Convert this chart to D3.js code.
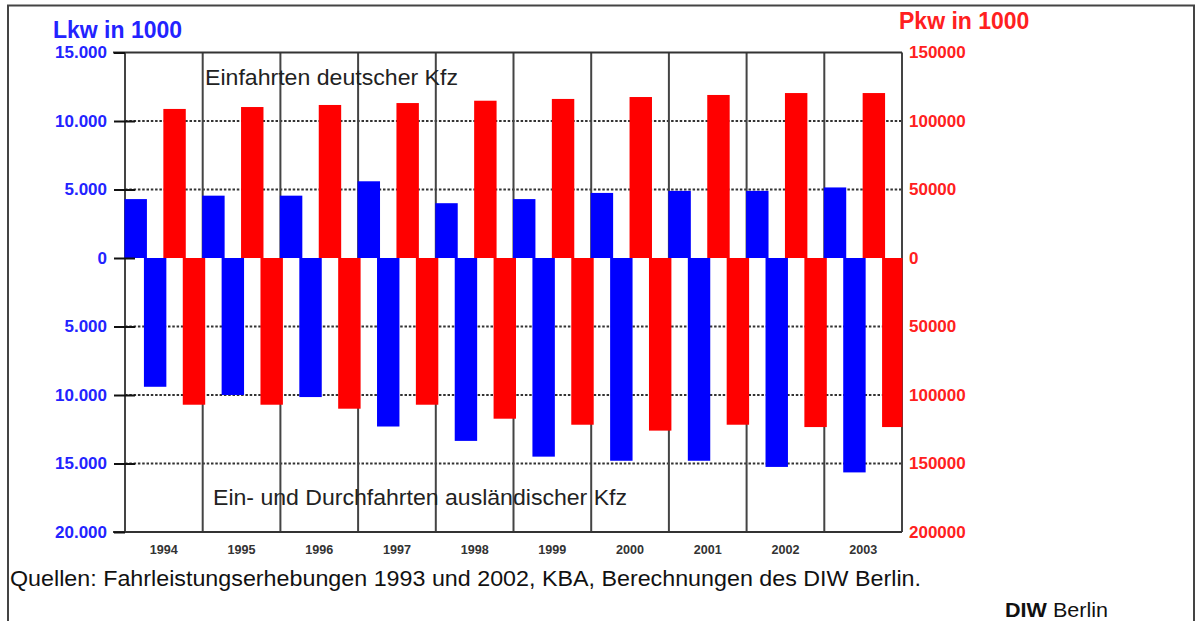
<!DOCTYPE html>
<html>
<head>
<meta charset="utf-8">
<script src="https://cdnjs.cloudflare.com/ajax/libs/d3/7.8.5/d3.min.js"></script>
<style>
  html, body { margin: 0; padding: 0; background: #fff; }
  svg { display: block; }
</style>
</head>
<body>
<svg id="chart" width="1200" height="621"></svg>
<script>
// ---- data (thousands of vehicles) ----
const years = ["1994","1995","1996","1997","1998","1999","2000","2001","2002","2003"];
// Lkw (left axis): entries of German trucks (positive), entries/transits of foreign trucks (negative)
const lkwDeutsch    = [4300, 4550, 4550, 5600, 4000, 4300, 4750, 4900, 4900, 5150];
const lkwAuslaender = [-9400, -10000, -10150, -12300, -13350, -14500, -14800, -14800, -15250, -15650];
// Pkw (right axis)
const pkwDeutsch    = [108800, 110200, 111700, 113100, 114800, 116100, 117500, 119000, 120400, 120400];
const pkwAuslaender = [-107100, -107100, -110000, -107100, -117300, -121700, -126000, -121700, -123400, -123400];
const leftTicks  = [-20000, -15000, -10000, -5000, 0, 5000, 10000, 15000];
const rightTicks = [-200000, -150000, -100000, -50000, 0, 50000, 100000, 150000];
const gridTicks  = [-15000, -10000, -5000, 5000, 10000];
const seriesKeys = ["lkwIn", "lkwOut", "pkwIn", "pkwOut"];

const svg = d3.select("#chart");
const X0 = 125, X1 = 902, Y0 = 52.5, Y1 = 532;

const x = d3.scaleBand().domain(years).range([X0, X1]).paddingInner(0).paddingOuter(0);
const xs = d3.scaleBand().domain(seriesKeys).range([0, x.bandwidth()]);
const yL = d3.scaleLinear().domain([-20000, 15000]).range([Y1, Y0]);
const yR = d3.scaleLinear().domain([-200000, 150000]).range([Y1, Y0]);

// outer frame
svg.append("rect").attr("x", 8).attr("y", 5.5).attr("width", 1186).attr("height", 700)
  .attr("fill", "none").attr("stroke", "#444").attr("stroke-width", 2);

// horizontal dotted grid
svg.append("g").selectAll("line").data(gridTicks).join("line")
  .attr("x1", X0).attr("x2", X1)
  .attr("y1", d => yL(d)).attr("y2", d => yL(d))
  .attr("stroke", "#333").attr("stroke-width", 2).attr("stroke-dasharray", "2.5,1.8");

// vertical category lines
const bounds = years.map(y => x(y)).concat([X1]);
svg.append("g").selectAll("line").data(bounds).join("line")
  .attr("x1", d => d).attr("x2", d => d).attr("y1", Y0).attr("y2", Y1)
  .attr("stroke", "#444").attr("stroke-width", 2);

// top and bottom frame lines of plot
svg.append("line").attr("x1", 113).attr("x2", X1).attr("y1", Y0).attr("y2", Y0)
  .attr("stroke", "#333").attr("stroke-width", 2);
svg.append("line").attr("x1", 113).attr("x2", X1).attr("y1", Y1).attr("y2", Y1)
  .attr("stroke", "#333").attr("stroke-width", 2);

// bars
const rows = years.map((yr, i) => ({
  year: yr,
  vals: [
    {key: "lkwIn",  v: lkwDeutsch[i],    scale: yL, color: "#0000ff"},
    {key: "lkwOut", v: lkwAuslaender[i], scale: yL, color: "#0000ff"},
    {key: "pkwIn",  v: pkwDeutsch[i],    scale: yR, color: "#ff0000"},
    {key: "pkwOut", v: pkwAuslaender[i], scale: yR, color: "#ff0000"}
  ]
}));
const barW = xs.bandwidth() + 3;
svg.append("g").selectAll("g").data(rows).join("g")
  .selectAll("rect").data(d => d.vals.map(v => Object.assign({year: d.year}, v))).join("rect")
  .attr("x", d => x(d.year) + xs(d.key) - 0.5)
  .attr("width", d => (d.year === years[years.length - 1] && d.key === "pkwOut") ? xs.bandwidth() + 1 : barW)
  .attr("y", d => Math.min(d.scale(d.v), d.scale(0)))
  .attr("height", d => Math.abs(d.scale(d.v) - d.scale(0)))
  .attr("fill", d => d.color);

// left axis
const fmtL = d => d3.format(",")(Math.abs(d)).replace(/,/g, ".");
const gL = svg.append("g").attr("transform", `translate(${X0},0)`)
  .call(d3.axisLeft(yL).tickValues(leftTicks).tickFormat(fmtL).tickSize(11).tickPadding(7));
gL.select(".domain").remove();
gL.selectAll(".tick line").attr("stroke", "#111").attr("stroke-width", 2);
gL.selectAll(".tick text").attr("fill", "#2323ff").attr("font-family", "Liberation Sans, Arial, sans-serif")
  .attr("font-weight", "bold").attr("font-size", 17);
const gL2 = svg.append("g").attr("transform", `translate(${X0},0)`)
  .call(d3.axisLeft(yL).tickValues([-15000, -10000, -5000, 0, 5000, 10000]).tickFormat("").tickSize(-10));
gL2.select(".domain").remove();
gL2.selectAll(".tick line").attr("stroke", "#111").attr("stroke-width", 2);

// right axis
const gR = svg.append("g").attr("transform", `translate(${X1},0)`)
  .call(d3.axisRight(yR).tickValues(rightTicks).tickFormat(d => String(Math.abs(d))).tickSize(0).tickPadding(7));
gR.select(".domain").remove();
gR.selectAll(".tick text").attr("fill", "#ff2020").attr("font-family", "Liberation Sans, Arial, sans-serif")
  .attr("font-weight", "bold").attr("font-size", 17);

// x labels
svg.append("g").selectAll("text").data(years).join("text")
  .attr("x", d => x(d) + x.bandwidth() / 2).attr("y", 554)
  .attr("text-anchor", "middle").attr("font-family", "Liberation Sans, Arial, sans-serif")
  .attr("font-size", 12).attr("font-weight", "bold").attr("fill", "#333")
  .attr("textLength", 28).attr("lengthAdjust", "spacingAndGlyphs").text(d => d);

// titles
svg.append("text").attr("x", 53).attr("y", 38).attr("fill", "#2323ff")
  .attr("font-family", "Liberation Sans, Arial, sans-serif").attr("font-weight", "bold")
  .attr("font-size", 23).text("Lkw in 1000");
svg.append("text").attr("x", 899).attr("y", 29).attr("fill", "#ff2020")
  .attr("font-family", "Liberation Sans, Arial, sans-serif").attr("font-weight", "bold")
  .attr("font-size", 23).text("Pkw in 1000");

svg.append("text").attr("x", 205).attr("y", 85).attr("fill", "#222")
  .attr("font-family", "Liberation Sans, Arial, sans-serif").attr("font-size", 22)
  .attr("textLength", 253).attr("lengthAdjust", "spacingAndGlyphs")
  .text("Einfahrten deutscher Kfz");
svg.append("text").attr("x", 213).attr("y", 505).attr("fill", "#222")
  .attr("font-family", "Liberation Sans, Arial, sans-serif").attr("font-size", 22)
  .attr("textLength", 414).attr("lengthAdjust", "spacingAndGlyphs")
  .text("Ein- und Durchfahrten ausländischer Kfz");

svg.append("text").attr("x", 10).attr("y", 586).attr("fill", "#111")
  .attr("font-family", "Liberation Sans Narrow, Liberation Sans, Arial, sans-serif").attr("font-size", 22)
  .attr("textLength", 911).attr("lengthAdjust", "spacingAndGlyphs")
  .text("Quellen: Fahrleistungserhebungen 1993 und 2002, KBA, Berechnungen des DIW Berlin.");

const diw = svg.append("text").attr("x", 1005).attr("y", 617).attr("fill", "#111")
  .attr("font-family", "Liberation Sans Narrow, Liberation Sans, Arial, sans-serif").attr("font-size", 21)
  .attr("textLength", 103).attr("lengthAdjust", "spacingAndGlyphs");
diw.append("tspan").attr("font-weight", "bold").text("DIW");
diw.append("tspan").text(" Berlin");
</script>
</body>
</html>
